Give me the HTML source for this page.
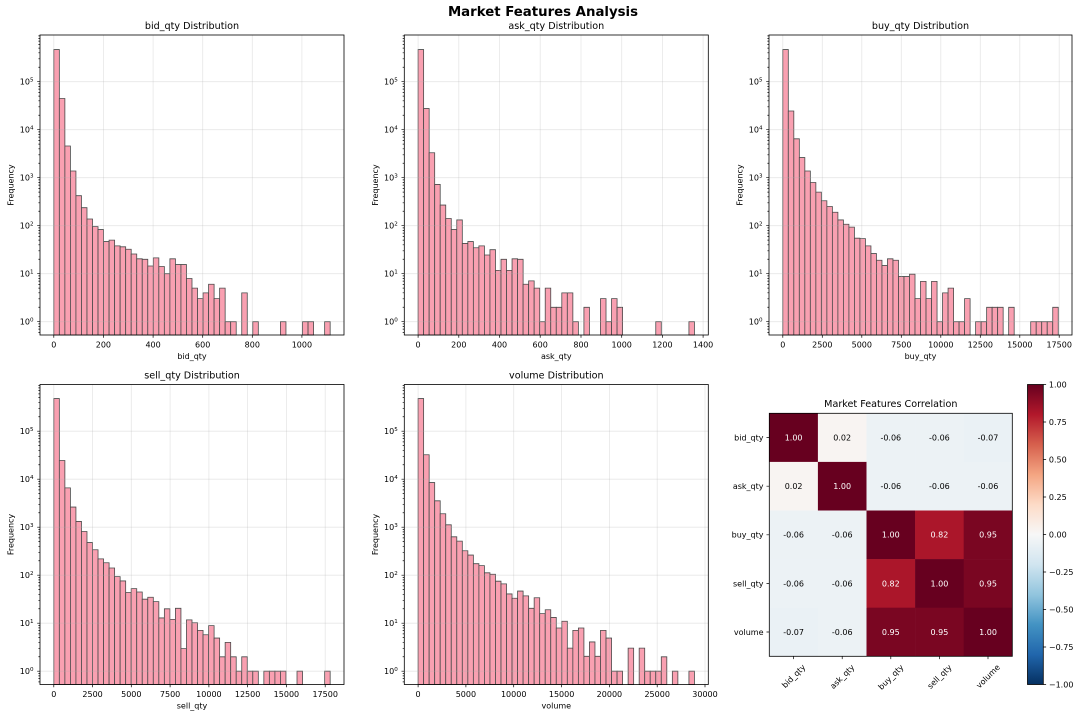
<!DOCTYPE html>
<html>
<head>
<meta charset="utf-8">
<style>
html,body{margin:0;padding:0;background:#fff}
svg{display:block}
text{font-family:"DejaVu Sans","Liberation Sans",sans-serif;fill:#000}
.t{font-size:9.6px;text-anchor:middle}
.tk{font-size:8px}
.m{text-anchor:middle}
.e{text-anchor:end}
.bars rect{vector-effect:non-scaling-stroke;fill:#f9a0b1;stroke:#4a4a4a;stroke-width:0.8}
.grid{stroke:#b0b0b0;stroke-opacity:.3;stroke-width:.8;fill:none}
.tick{stroke:#000;stroke-width:.7;fill:none}
.sp{fill:none;stroke:#000;stroke-width:.8}
.w{fill:#fff}
</style>
</head>
<body>
<svg width="1080" height="717" viewBox="0 0 1080 717" xmlns="http://www.w3.org/2000/svg">
<defs>
<path id="gy" d="M0 0H304M0 -48H304M0 -96H304M0 -144H304M0 -192H304M0 -240H304"/>
<path id="mj" d="M-2.8 0H0M-2.8 -48H0M-2.8 -96H0M-2.8 -144H0M-2.8 -192H0M-2.8 -240H0"/>
<path id="mn" d="M-1.6 10.65H0M-1.6 7.44H0M-1.6 4.65H0M-1.6 2.2H0
M-1.6 -14.45H0M-1.6 -22.9H0M-1.6 -28.9H0M-1.6 -33.55H0M-1.6 -37.35H0M-1.6 -40.56H0M-1.6 -43.34H0M-1.6 -45.8H0
M-1.6 -62.45H0M-1.6 -70.9H0M-1.6 -76.9H0M-1.6 -81.55H0M-1.6 -85.35H0M-1.6 -88.56H0M-1.6 -91.34H0M-1.6 -93.8H0
M-1.6 -110.45H0M-1.6 -118.9H0M-1.6 -124.9H0M-1.6 -129.55H0M-1.6 -133.35H0M-1.6 -136.56H0M-1.6 -139.34H0M-1.6 -141.8H0
M-1.6 -158.45H0M-1.6 -166.9H0M-1.6 -172.9H0M-1.6 -177.55H0M-1.6 -181.35H0M-1.6 -184.56H0M-1.6 -187.34H0M-1.6 -189.8H0
M-1.6 -206.45H0M-1.6 -214.9H0M-1.6 -220.9H0M-1.6 -225.55H0M-1.6 -229.35H0M-1.6 -232.56H0M-1.6 -235.34H0M-1.6 -237.8H0
M-1.6 -254.45H0M-1.6 -262.9H0M-1.6 -268.9H0M-1.6 -273.55H0M-1.6 -277.35H0M-1.6 -280.56H0M-1.6 -283.34H0M-1.6 -285.8H0"/>
<linearGradient id="cb" x1="0" y1="0" x2="0" y2="1">
<stop offset="0" stop-color="#67001f"/>
<stop offset="0.1" stop-color="#b2182b"/>
<stop offset="0.2" stop-color="#d6604d"/>
<stop offset="0.3" stop-color="#f4a582"/>
<stop offset="0.4" stop-color="#fddbc7"/>
<stop offset="0.5" stop-color="#f7f7f7"/>
<stop offset="0.6" stop-color="#d1e5f0"/>
<stop offset="0.7" stop-color="#92c5de"/>
<stop offset="0.8" stop-color="#4393c3"/>
<stop offset="0.9" stop-color="#2166ac"/>
<stop offset="1" stop-color="#053061"/>
</linearGradient>
</defs>

<!-- Suptitle -->
<text x="543" y="16" class="m" style="font-size:13.3px;font-weight:bold">Market Features Analysis</text>

<!-- ============ Panel 1: bid_qty ============ -->
<g class="bars" transform="translate(53.82,321.7) scale(5.527,48)">
<rect x="0" y="-5.67" width="1" height="5.95"/>
<rect x="1" y="-4.65" width="1" height="4.93"/>
<rect x="2" y="-3.66" width="1" height="3.94"/>
<rect x="3" y="-3.14" width="1" height="3.42"/>
<rect x="4" y="-2.625" width="1" height="2.905"/>
<rect x="5" y="-2.375" width="1" height="2.655"/>
<rect x="6" y="-2.14" width="1" height="2.42"/>
<rect x="7" y="-1.98" width="1" height="2.26"/>
<rect x="8" y="-1.92" width="1" height="2.2"/>
<rect x="9" y="-1.67" width="1" height="1.95"/>
<rect x="10" y="-1.70" width="1" height="1.98"/>
<rect x="11" y="-1.58" width="1" height="1.86"/>
<rect x="12" y="-1.56" width="1" height="1.84"/>
<rect x="13" y="-1.51" width="1" height="1.79"/>
<rect x="14" y="-1.41" width="1" height="1.69"/>
<rect x="15" y="-1.31" width="1" height="1.59"/>
<rect x="16" y="-1.30" width="1" height="1.58"/>
<rect x="17" y="-1.16" width="1" height="1.44"/>
<rect x="18" y="-1.33" width="1" height="1.61"/>
<rect x="19" y="-1.15" width="1" height="1.43"/>
<rect x="20" y="-1.00" width="1" height="1.28"/>
<rect x="21" y="-1.31" width="1" height="1.59"/>
<rect x="22" y="-1.19" width="1" height="1.47"/>
<rect x="23" y="-1.19" width="1" height="1.47"/>
<rect x="24" y="-0.90" width="1" height="1.18"/>
<rect x="25" y="-0.70" width="1" height="0.98"/>
<rect x="26" y="-0.48" width="1" height="0.76"/>
<rect x="27" y="-0.60" width="1" height="0.88"/>
<rect x="28" y="-0.78" width="1" height="1.06"/>
<rect x="29" y="-0.48" width="1" height="0.76"/>
<rect x="30" y="-0.70" width="1" height="0.98"/>
<rect x="31" y="0" width="1" height="0.28"/>
<rect x="32" y="0" width="1" height="0.28"/>
<rect x="34" y="-0.60" width="1" height="0.88"/>
<rect x="36" y="0" width="1" height="0.28"/>
<rect x="41" y="0" width="1" height="0.28"/>
<rect x="45" y="0" width="1" height="0.28"/>
<rect x="46" y="0" width="1" height="0.28"/>
<rect x="49" y="0" width="1" height="0.28"/>
</g>
<use href="#gy" x="40" y="321.7" class="grid"/>
<path class="grid" d="M53.8 35V335M103.4 35V335M153.1 35V335M202.7 35V335M252.3 35V335M301.9 35V335"/>
<rect x="40" y="35" width="304" height="300" class="sp"/>
<use href="#mj" x="40" y="321.7" class="tick"/>
<use href="#mn" x="40" y="321.7" class="tick"/>
<path class="tick" d="M53.8 335v2.8M103.4 335v2.8M153.1 335v2.8M202.7 335v2.8M252.3 335v2.8M301.9 335v2.8"/>
<g class="tk m">
<text x="53.8" y="347.5">0</text><text x="103.4" y="347.5">200</text><text x="153.1" y="347.5">400</text><text x="202.7" y="347.5">600</text><text x="252.3" y="347.5">800</text><text x="301.9" y="347.5">1000</text>
</g>
<g class="tk e">
<text x="33.5" y="324.7">10<tspan dy="-3.3" font-size="5.6">0</tspan></text>
<text x="33.5" y="276.7">10<tspan dy="-3.3" font-size="5.6">1</tspan></text>
<text x="33.5" y="228.7">10<tspan dy="-3.3" font-size="5.6">2</tspan></text>
<text x="33.5" y="180.7">10<tspan dy="-3.3" font-size="5.6">3</tspan></text>
<text x="33.5" y="132.7">10<tspan dy="-3.3" font-size="5.6">4</tspan></text>
<text x="33.5" y="84.7">10<tspan dy="-3.3" font-size="5.6">5</tspan></text>
</g>
<text class="t" x="192" y="29">bid_qty Distribution</text>
<text class="tk m" x="192" y="359">bid_qty</text>
<text class="tk m" transform="translate(13.5,185) rotate(-90)">Frequency</text>

<!-- ============ Panel 2: ask_qty ============ -->
<g class="bars" transform="translate(418.1,321.7) scale(5.527,48)">
<rect x="0" y="-5.67" width="1" height="5.95"/>
<rect x="1" y="-4.44" width="1" height="4.72"/>
<rect x="2" y="-3.52" width="1" height="3.80"/>
<rect x="3" y="-2.86" width="1" height="3.14"/>
<rect x="4" y="-2.43" width="1" height="2.71"/>
<rect x="5" y="-2.15" width="1" height="2.43"/>
<rect x="6" y="-1.92" width="1" height="2.20"/>
<rect x="7" y="-2.12" width="1" height="2.40"/>
<rect x="8" y="-1.63" width="1" height="1.91"/>
<rect x="9" y="-1.67" width="1" height="1.95"/>
<rect x="10" y="-1.54" width="1" height="1.82"/>
<rect x="11" y="-1.58" width="1" height="1.86"/>
<rect x="12" y="-1.39" width="1" height="1.67"/>
<rect x="13" y="-1.50" width="1" height="1.78"/>
<rect x="14" y="-1.07" width="1" height="1.35"/>
<rect x="15" y="-1.30" width="1" height="1.58"/>
<rect x="16" y="-1.07" width="1" height="1.35"/>
<rect x="17" y="-1.31" width="1" height="1.59"/>
<rect x="18" y="-1.30" width="1" height="1.58"/>
<rect x="19" y="-0.78" width="1" height="1.06"/>
<rect x="20" y="-0.85" width="1" height="1.13"/>
<rect x="21" y="-0.70" width="1" height="0.98"/>
<rect x="22" y="0" width="1" height="0.28"/>
<rect x="23" y="-0.70" width="1" height="0.98"/>
<rect x="24" y="-0.30" width="1" height="0.58"/>
<rect x="25" y="-0.30" width="1" height="0.58"/>
<rect x="26" y="-0.60" width="1" height="0.88"/>
<rect x="27" y="-0.60" width="1" height="0.88"/>
<rect x="28" y="0" width="1" height="0.28"/>
<rect x="30" y="-0.30" width="1" height="0.58"/>
<rect x="33" y="-0.48" width="1" height="0.76"/>
<rect x="34" y="0" width="1" height="0.28"/>
<rect x="35" y="-0.48" width="1" height="0.76"/>
<rect x="36" y="-0.30" width="1" height="0.58"/>
<rect x="43" y="0" width="1" height="0.28"/>
<rect x="49" y="0" width="1" height="0.28"/>
</g>
<use href="#gy" x="404.3" y="321.7" class="grid"/>
<path class="grid" d="M418.1 35V335M458.8 35V335M499.5 35V335M540.2 35V335M581 35V335M621.7 35V335M662.4 35V335M703.1 35V335"/>
<rect x="404.3" y="35" width="304" height="300" class="sp"/>
<use href="#mj" x="404.3" y="321.7" class="tick"/>
<use href="#mn" x="404.3" y="321.7" class="tick"/>
<path class="tick" d="M418.1 335v2.8M458.8 335v2.8M499.5 335v2.8M540.2 335v2.8M581 335v2.8M621.7 335v2.8M662.4 335v2.8M703.1 335v2.8"/>
<g class="tk m">
<text x="418.1" y="347.5">0</text><text x="458.8" y="347.5">200</text><text x="499.5" y="347.5">400</text><text x="540.2" y="347.5">600</text><text x="581" y="347.5">800</text><text x="621.7" y="347.5">1000</text><text x="662.4" y="347.5">1200</text><text x="703.1" y="347.5">1400</text>
</g>
<g class="tk e">
<text x="397.8" y="324.7">10<tspan dy="-3.3" font-size="5.6">0</tspan></text>
<text x="397.8" y="276.7">10<tspan dy="-3.3" font-size="5.6">1</tspan></text>
<text x="397.8" y="228.7">10<tspan dy="-3.3" font-size="5.6">2</tspan></text>
<text x="397.8" y="180.7">10<tspan dy="-3.3" font-size="5.6">3</tspan></text>
<text x="397.8" y="132.7">10<tspan dy="-3.3" font-size="5.6">4</tspan></text>
<text x="397.8" y="84.7">10<tspan dy="-3.3" font-size="5.6">5</tspan></text>
</g>
<text class="t" x="556.3" y="29">ask_qty Distribution</text>
<text class="tk m" x="556.3" y="359">ask_qty</text>
<text class="tk m" transform="translate(377.8,185) rotate(-90)">Frequency</text>

<!-- ============ Panel 3: buy_qty ============ -->
<g class="bars" transform="translate(782.8,321.7) scale(5.509,48)">
<rect x="0" y="-5.67" width="1" height="5.95"/>
<rect x="1" y="-4.39" width="1" height="4.67"/>
<rect x="2" y="-3.81" width="1" height="4.09"/>
<rect x="3" y="-3.42" width="1" height="3.70"/>
<rect x="4" y="-3.14" width="1" height="3.42"/>
<rect x="5" y="-2.90" width="1" height="3.18"/>
<rect x="6" y="-2.70" width="1" height="2.98"/>
<rect x="7" y="-2.52" width="1" height="2.80"/>
<rect x="8" y="-2.40" width="1" height="2.68"/>
<rect x="9" y="-2.28" width="1" height="2.56"/>
<rect x="10" y="-2.12" width="1" height="2.40"/>
<rect x="11" y="-2.03" width="1" height="2.31"/>
<rect x="12" y="-1.97" width="1" height="2.25"/>
<rect x="13" y="-1.74" width="1" height="2.02"/>
<rect x="14" y="-1.73" width="1" height="2.01"/>
<rect x="15" y="-1.58" width="1" height="1.86"/>
<rect x="16" y="-1.42" width="1" height="1.70"/>
<rect x="17" y="-1.28" width="1" height="1.56"/>
<rect x="18" y="-1.17" width="1" height="1.45"/>
<rect x="19" y="-1.31" width="1" height="1.59"/>
<rect x="20" y="-1.28" width="1" height="1.56"/>
<rect x="21" y="-0.94" width="1" height="1.22"/>
<rect x="22" y="-0.94" width="1" height="1.22"/>
<rect x="23" y="-0.99" width="1" height="1.27"/>
<rect x="24" y="-0.48" width="1" height="0.76"/>
<rect x="25" y="-0.84" width="1" height="1.12"/>
<rect x="26" y="-0.48" width="1" height="0.76"/>
<rect x="27" y="-0.84" width="1" height="1.12"/>
<rect x="28" y="0" width="1" height="0.28"/>
<rect x="29" y="-0.60" width="1" height="0.88"/>
<rect x="30" y="-0.70" width="1" height="0.98"/>
<rect x="31" y="0" width="1" height="0.28"/>
<rect x="32" y="0" width="1" height="0.28"/>
<rect x="33" y="-0.48" width="1" height="0.76"/>
<rect x="35" y="0" width="1" height="0.28"/>
<rect x="36" y="0" width="1" height="0.28"/>
<rect x="37" y="-0.30" width="1" height="0.58"/>
<rect x="38" y="-0.30" width="1" height="0.58"/>
<rect x="39" y="-0.30" width="1" height="0.58"/>
<rect x="41" y="-0.30" width="1" height="0.58"/>
<rect x="45" y="0" width="1" height="0.28"/>
<rect x="46" y="0" width="1" height="0.28"/>
<rect x="47" y="0" width="1" height="0.28"/>
<rect x="48" y="0" width="1" height="0.28"/>
<rect x="49" y="-0.30" width="1" height="0.58"/>
</g>
<use href="#gy" x="769" y="321.7" class="grid"/>
<path class="grid" d="M782.8 35V335M822.3 35V335M861.8 35V335M901.3 35V335M940.8 35V335M980.3 35V335M1019.8 35V335M1059.2 35V335"/>
<rect x="769" y="35" width="303" height="300" class="sp"/>
<use href="#mj" x="769" y="321.7" class="tick"/>
<use href="#mn" x="769" y="321.7" class="tick"/>
<path class="tick" d="M782.8 335v2.8M822.3 335v2.8M861.8 335v2.8M901.3 335v2.8M940.8 335v2.8M980.3 335v2.8M1019.8 335v2.8M1059.2 335v2.8"/>
<g class="tk m">
<text x="782.8" y="347.5">0</text><text x="822.3" y="347.5">2500</text><text x="861.8" y="347.5">5000</text><text x="901.3" y="347.5">7500</text><text x="940.8" y="347.5">10000</text><text x="980.3" y="347.5">12500</text><text x="1019.8" y="347.5">15000</text><text x="1059.2" y="347.5">17500</text>
</g>
<g class="tk e">
<text x="762.5" y="324.7">10<tspan dy="-3.3" font-size="5.6">0</tspan></text>
<text x="762.5" y="276.7">10<tspan dy="-3.3" font-size="5.6">1</tspan></text>
<text x="762.5" y="228.7">10<tspan dy="-3.3" font-size="5.6">2</tspan></text>
<text x="762.5" y="180.7">10<tspan dy="-3.3" font-size="5.6">3</tspan></text>
<text x="762.5" y="132.7">10<tspan dy="-3.3" font-size="5.6">4</tspan></text>
<text x="762.5" y="84.7">10<tspan dy="-3.3" font-size="5.6">5</tspan></text>
</g>
<text class="t" x="920.5" y="29">buy_qty Distribution</text>
<text class="tk m" x="920.5" y="359">buy_qty</text>
<text class="tk m" transform="translate(742.5,185) rotate(-90)">Frequency</text>

<!-- ============ Panel 4: sell_qty ============ -->
<g class="bars" transform="translate(53.82,671.2) scale(5.527,48)">
<rect x="0" y="-5.68" width="1" height="5.96"/>
<rect x="1" y="-4.39" width="1" height="4.67"/>
<rect x="2" y="-3.82" width="1" height="4.10"/>
<rect x="3" y="-3.42" width="1" height="3.70"/>
<rect x="4" y="-3.12" width="1" height="3.40"/>
<rect x="5" y="-2.91" width="1" height="3.19"/>
<rect x="6" y="-2.68" width="1" height="2.96"/>
<rect x="7" y="-2.53" width="1" height="2.81"/>
<rect x="8" y="-2.34" width="1" height="2.62"/>
<rect x="9" y="-2.26" width="1" height="2.54"/>
<rect x="10" y="-2.15" width="1" height="2.43"/>
<rect x="11" y="-1.97" width="1" height="2.25"/>
<rect x="12" y="-1.88" width="1" height="2.16"/>
<rect x="13" y="-1.64" width="1" height="1.92"/>
<rect x="14" y="-1.72" width="1" height="2.00"/>
<rect x="15" y="-1.65" width="1" height="1.93"/>
<rect x="16" y="-1.50" width="1" height="1.78"/>
<rect x="17" y="-1.54" width="1" height="1.82"/>
<rect x="18" y="-1.45" width="1" height="1.73"/>
<rect x="19" y="-1.11" width="1" height="1.39"/>
<rect x="20" y="-1.30" width="1" height="1.58"/>
<rect x="21" y="-1.08" width="1" height="1.36"/>
<rect x="22" y="-1.31" width="1" height="1.59"/>
<rect x="23" y="-0.47" width="1" height="0.75"/>
<rect x="24" y="-1.07" width="1" height="1.35"/>
<rect x="25" y="-1.01" width="1" height="1.29"/>
<rect x="26" y="-0.85" width="1" height="1.13"/>
<rect x="27" y="-0.76" width="1" height="1.04"/>
<rect x="28" y="-0.95" width="1" height="1.23"/>
<rect x="29" y="-0.69" width="1" height="0.97"/>
<rect x="30" y="-0.30" width="1" height="0.58"/>
<rect x="31" y="-0.60" width="1" height="0.88"/>
<rect x="32" y="-0.30" width="1" height="0.58"/>
<rect x="33" y="0" width="1" height="0.28"/>
<rect x="34" y="-0.30" width="1" height="0.58"/>
<rect x="35" y="0" width="1" height="0.28"/>
<rect x="36" y="0" width="1" height="0.28"/>
<rect x="38" y="0" width="1" height="0.28"/>
<rect x="39" y="0" width="1" height="0.28"/>
<rect x="40" y="0" width="1" height="0.28"/>
<rect x="41" y="0" width="1" height="0.28"/>
<rect x="44" y="0" width="1" height="0.28"/>
<rect x="49" y="0" width="1" height="0.28"/>
</g>
<use href="#gy" x="40" y="671.2" class="grid"/>
<path class="grid" d="M53.8 384.5V684.5M92.6 384.5V684.5M131.3 384.5V684.5M170.1 384.5V684.5M208.9 384.5V684.5M247.6 384.5V684.5M286.4 384.5V684.5M325.2 384.5V684.5"/>
<rect x="40" y="384.5" width="304" height="300" class="sp"/>
<use href="#mj" x="40" y="671.2" class="tick"/>
<use href="#mn" x="40" y="671.2" class="tick"/>
<path class="tick" d="M53.8 684.5v2.8M92.6 684.5v2.8M131.3 684.5v2.8M170.1 684.5v2.8M208.9 684.5v2.8M247.6 684.5v2.8M286.4 684.5v2.8M325.2 684.5v2.8"/>
<g class="tk m">
<text x="53.8" y="697">0</text><text x="92.6" y="697">2500</text><text x="131.3" y="697">5000</text><text x="170.1" y="697">7500</text><text x="208.9" y="697">10000</text><text x="247.6" y="697">12500</text><text x="286.4" y="697">15000</text><text x="325.2" y="697">17500</text>
</g>
<g class="tk e">
<text x="33.5" y="674.2">10<tspan dy="-3.3" font-size="5.6">0</tspan></text>
<text x="33.5" y="626.2">10<tspan dy="-3.3" font-size="5.6">1</tspan></text>
<text x="33.5" y="578.2">10<tspan dy="-3.3" font-size="5.6">2</tspan></text>
<text x="33.5" y="530.2">10<tspan dy="-3.3" font-size="5.6">3</tspan></text>
<text x="33.5" y="482.2">10<tspan dy="-3.3" font-size="5.6">4</tspan></text>
<text x="33.5" y="434.2">10<tspan dy="-3.3" font-size="5.6">5</tspan></text>
</g>
<text class="t" x="192" y="378.5">sell_qty Distribution</text>
<text class="tk m" x="192" y="708.5">sell_qty</text>
<text class="tk m" transform="translate(13.5,534.5) rotate(-90)">Frequency</text>

<!-- ============ Panel 5: volume ============ -->
<g class="bars" transform="translate(418.1,671.2) scale(5.527,48)">
<rect x="0" y="-5.68" width="1" height="5.96"/>
<rect x="1" y="-4.51" width="1" height="4.79"/>
<rect x="2" y="-3.93" width="1" height="4.21"/>
<rect x="3" y="-3.55" width="1" height="3.83"/>
<rect x="4" y="-3.28" width="1" height="3.56"/>
<rect x="5" y="-3.05" width="1" height="3.33"/>
<rect x="6" y="-2.80" width="1" height="3.08"/>
<rect x="7" y="-2.71" width="1" height="2.99"/>
<rect x="8" y="-2.51" width="1" height="2.79"/>
<rect x="9" y="-2.42" width="1" height="2.70"/>
<rect x="10" y="-2.24" width="1" height="2.52"/>
<rect x="11" y="-2.20" width="1" height="2.48"/>
<rect x="12" y="-2.05" width="1" height="2.33"/>
<rect x="13" y="-2.02" width="1" height="2.30"/>
<rect x="14" y="-1.875" width="1" height="2.155"/>
<rect x="15" y="-1.82" width="1" height="2.10"/>
<rect x="16" y="-1.61" width="1" height="1.89"/>
<rect x="17" y="-1.52" width="1" height="1.80"/>
<rect x="18" y="-1.67" width="1" height="1.95"/>
<rect x="19" y="-1.57" width="1" height="1.85"/>
<rect x="20" y="-1.31" width="1" height="1.59"/>
<rect x="21" y="-1.53" width="1" height="1.81"/>
<rect x="22" y="-1.20" width="1" height="1.48"/>
<rect x="23" y="-1.28" width="1" height="1.56"/>
<rect x="24" y="-1.12" width="1" height="1.40"/>
<rect x="25" y="-0.90" width="1" height="1.18"/>
<rect x="26" y="-1.04" width="1" height="1.32"/>
<rect x="27" y="-0.48" width="1" height="0.76"/>
<rect x="28" y="-0.85" width="1" height="1.13"/>
<rect x="29" y="-0.90" width="1" height="1.18"/>
<rect x="30" y="-0.31" width="1" height="0.59"/>
<rect x="31" y="-0.61" width="1" height="0.89"/>
<rect x="32" y="-0.31" width="1" height="0.59"/>
<rect x="33" y="-0.85" width="1" height="1.13"/>
<rect x="34" y="-0.69" width="1" height="0.97"/>
<rect x="35" y="0" width="1" height="0.28"/>
<rect x="36" y="0" width="1" height="0.28"/>
<rect x="38" y="-0.48" width="1" height="0.76"/>
<rect x="40" y="-0.48" width="1" height="0.76"/>
<rect x="41" y="0" width="1" height="0.28"/>
<rect x="42" y="0" width="1" height="0.28"/>
<rect x="43" y="0" width="1" height="0.28"/>
<rect x="44" y="-0.30" width="1" height="0.58"/>
<rect x="46" y="0" width="1" height="0.28"/>
<rect x="49" y="0" width="1" height="0.28"/>
</g>
<use href="#gy" x="404.3" y="671.2" class="grid"/>
<path class="grid" d="M418.1 384.5V684.5M465.9 384.5V684.5M513.7 384.5V684.5M561.6 384.5V684.5M609.4 384.5V684.5M657.2 384.5V684.5M705 384.5V684.5"/>
<rect x="404.3" y="384.5" width="304" height="300" class="sp"/>
<use href="#mj" x="404.3" y="671.2" class="tick"/>
<use href="#mn" x="404.3" y="671.2" class="tick"/>
<path class="tick" d="M418.1 684.5v2.8M465.9 684.5v2.8M513.7 684.5v2.8M561.6 684.5v2.8M609.4 684.5v2.8M657.2 684.5v2.8M705 684.5v2.8"/>
<g class="tk m">
<text x="418.1" y="697">0</text><text x="465.9" y="697">5000</text><text x="513.7" y="697">10000</text><text x="561.6" y="697">15000</text><text x="609.4" y="697">20000</text><text x="657.2" y="697">25000</text><text x="705" y="697">30000</text>
</g>
<g class="tk e">
<text x="397.8" y="674.2">10<tspan dy="-3.3" font-size="5.6">0</tspan></text>
<text x="397.8" y="626.2">10<tspan dy="-3.3" font-size="5.6">1</tspan></text>
<text x="397.8" y="578.2">10<tspan dy="-3.3" font-size="5.6">2</tspan></text>
<text x="397.8" y="530.2">10<tspan dy="-3.3" font-size="5.6">3</tspan></text>
<text x="397.8" y="482.2">10<tspan dy="-3.3" font-size="5.6">4</tspan></text>
<text x="397.8" y="434.2">10<tspan dy="-3.3" font-size="5.6">5</tspan></text>
</g>
<text class="t" x="556.3" y="378.5">volume Distribution</text>
<text class="tk m" x="556.3" y="708.5">volume</text>
<text class="tk m" transform="translate(377.8,534.5) rotate(-90)">Frequency</text>

<!-- ============ Panel 6: Correlation heatmap ============ -->
<g>
<rect x="769.3" y="413.3" width="48.9" height="48.9" fill="#67001f"/>
<rect x="817.9" y="413.3" width="48.9" height="48.9" fill="#f8f4f2"/>
<rect x="866.5" y="413.3" width="48.9" height="48.9" fill="#ecf2f5"/>
<rect x="915.1" y="413.3" width="48.9" height="48.9" fill="#ecf2f5"/>
<rect x="963.7" y="413.3" width="48.6" height="48.9" fill="#eaf1f5"/>

<rect x="769.3" y="461.9" width="48.9" height="48.9" fill="#f8f4f2"/>
<rect x="817.9" y="461.9" width="48.9" height="48.9" fill="#67001f"/>
<rect x="866.5" y="461.9" width="48.9" height="48.9" fill="#ecf2f5"/>
<rect x="915.1" y="461.9" width="48.9" height="48.9" fill="#ecf2f5"/>
<rect x="963.7" y="461.9" width="48.6" height="48.9" fill="#ecf2f5"/>

<rect x="769.3" y="510.5" width="48.9" height="48.9" fill="#ecf2f5"/>
<rect x="817.9" y="510.5" width="48.9" height="48.9" fill="#ecf2f5"/>
<rect x="866.5" y="510.5" width="48.9" height="48.9" fill="#67001f"/>
<rect x="915.1" y="510.5" width="48.9" height="48.9" fill="#ab162a"/>
<rect x="963.7" y="510.5" width="48.6" height="48.9" fill="#7a0622"/>

<rect x="769.3" y="559.1" width="48.9" height="48.9" fill="#ecf2f5"/>
<rect x="817.9" y="559.1" width="48.9" height="48.9" fill="#ecf2f5"/>
<rect x="866.5" y="559.1" width="48.9" height="48.9" fill="#ab162a"/>
<rect x="915.1" y="559.1" width="48.9" height="48.9" fill="#67001f"/>
<rect x="963.7" y="559.1" width="48.6" height="48.9" fill="#7a0622"/>

<rect x="769.3" y="607.7" width="48.9" height="48.6" fill="#eaf1f5"/>
<rect x="817.9" y="607.7" width="48.9" height="48.6" fill="#ecf2f5"/>
<rect x="866.5" y="607.7" width="48.9" height="48.6" fill="#7a0622"/>
<rect x="915.1" y="607.7" width="48.9" height="48.6" fill="#7a0622"/>
<rect x="963.7" y="607.7" width="48.6" height="48.6" fill="#67001f"/>
</g>
<rect x="769.3" y="413.3" width="243" height="243" class="sp"/>
<g class="tk m">
<text x="793.6" y="440.5" class="w">1.00</text><text x="842.2" y="440.5">0.02</text><text x="890.8" y="440.5">-0.06</text><text x="939.4" y="440.5">-0.06</text><text x="988" y="440.5">-0.07</text>
<text x="793.6" y="489.1">0.02</text><text x="842.2" y="489.1" class="w">1.00</text><text x="890.8" y="489.1">-0.06</text><text x="939.4" y="489.1">-0.06</text><text x="988" y="489.1">-0.06</text>
<text x="793.6" y="537.7">-0.06</text><text x="842.2" y="537.7">-0.06</text><text x="890.8" y="537.7" class="w">1.00</text><text x="939.4" y="537.7" class="w">0.82</text><text x="988" y="537.7" class="w">0.95</text>
<text x="793.6" y="586.3">-0.06</text><text x="842.2" y="586.3">-0.06</text><text x="890.8" y="586.3" class="w">0.82</text><text x="939.4" y="586.3" class="w">1.00</text><text x="988" y="586.3" class="w">0.95</text>
<text x="793.6" y="634.9">-0.07</text><text x="842.2" y="634.9">-0.06</text><text x="890.8" y="634.9" class="w">0.95</text><text x="939.4" y="634.9" class="w">0.95</text><text x="988" y="634.9" class="w">1.00</text>
</g>
<path class="tick" d="M766.5 437.6H769.3M766.5 486.2H769.3M766.5 534.8H769.3M766.5 583.4H769.3M766.5 632H769.3M793.6 656.3v2.8M842.2 656.3v2.8M890.8 656.3v2.8M939.4 656.3v2.8M988 656.3v2.8"/>
<g class="tk e">
<text x="763.5" y="440.5">bid_qty</text>
<text x="763.5" y="489.1">ask_qty</text>
<text x="763.5" y="537.7">buy_qty</text>
<text x="763.5" y="586.3">sell_qty</text>
<text x="763.5" y="634.9">volume</text>
</g>
<g class="tk m">
<text transform="translate(793.6,676.1) rotate(-45)" y="2.8">bid_qty</text>
<text transform="translate(842.2,676.6) rotate(-45)" y="2.8">ask_qty</text>
<text transform="translate(890.8,677) rotate(-45)" y="2.8">buy_qty</text>
<text transform="translate(939.4,676.6) rotate(-45)" y="2.8">sell_qty</text>
<text transform="translate(988,676.3) rotate(-45)" y="2.8">volume</text>
</g>
<text class="t" x="890.8" y="407">Market Features Correlation</text>

<!-- Colorbar -->
<rect x="1027.5" y="384.5" width="15.8" height="300" fill="url(#cb)"/>
<rect x="1027.5" y="384.5" width="15.8" height="300" class="sp"/>
<path class="tick" d="M1043.3 384.5h2.8M1043.3 422h2.8M1043.3 459.5h2.8M1043.3 497h2.8M1043.3 534.5h2.8M1043.3 572h2.8M1043.3 609.5h2.8M1043.3 647h2.8M1043.3 684.5h2.8"/>
<g class="tk">
<text x="1048.9" y="387.4">1.00</text>
<text x="1048.9" y="424.9">0.75</text>
<text x="1048.9" y="462.4">0.50</text>
<text x="1048.9" y="499.9">0.25</text>
<text x="1048.9" y="537.4">0.00</text>
<text x="1048.9" y="574.9">−0.25</text>
<text x="1048.9" y="612.4">−0.50</text>
<text x="1048.9" y="649.9">−0.75</text>
<text x="1048.9" y="687.4">−1.00</text>
</g>
</svg>
</body>
</html>
